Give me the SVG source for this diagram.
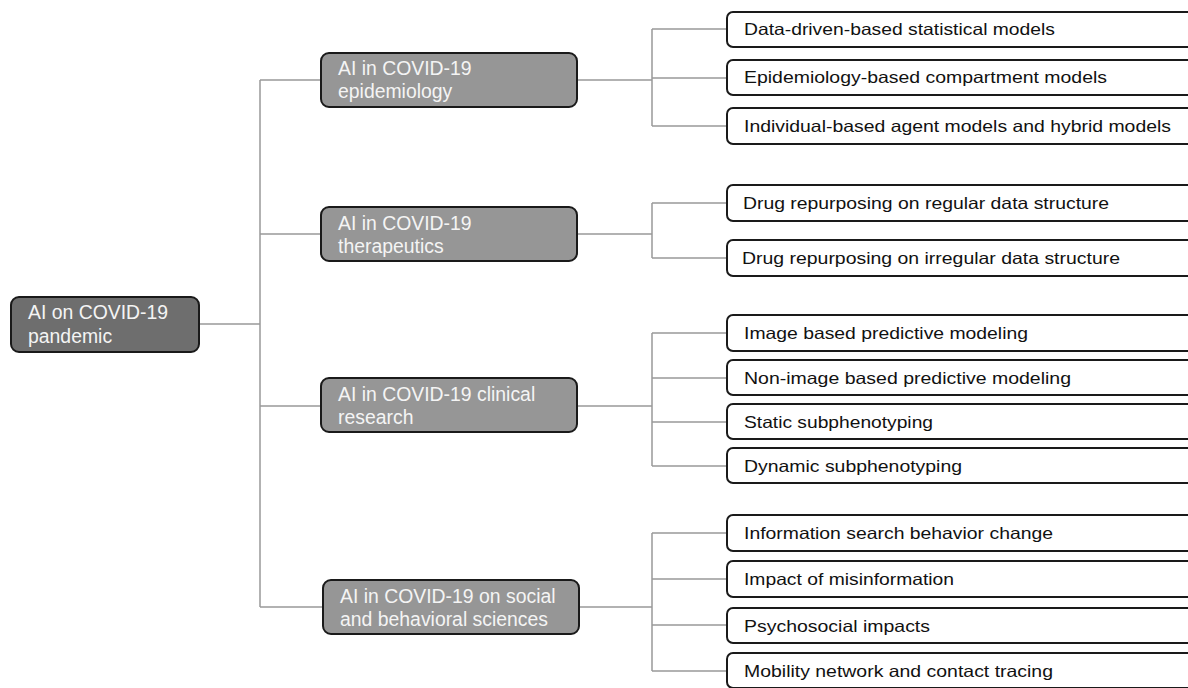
<svg xmlns="http://www.w3.org/2000/svg" width="1188" height="688" viewBox="0 0 1188 688">
<style>
.root{fill:#6e6e6e;stroke:#1a1a1a;stroke-width:2}
.mid{fill:#969696;stroke:#1a1a1a;stroke-width:2}
.leaf{fill:#ffffff;stroke:#1a1a1a;stroke-width:2}
.wt{font-family:"Liberation Sans",Arial,sans-serif;font-size:19.4px;fill:#f4f4f4}
.bt{font-family:"Liberation Sans",Arial,sans-serif;font-size:16.5px;fill:#111111}
.conn{fill:none;stroke:#999999;stroke-width:1.5}
</style>
<rect width="1188" height="688" fill="#ffffff"/>
<g id="connectors" class="conn">
<path d="M199 324H260M260 80V607M260 80H321M260 234H321M260 406H321M260 607H323"/>
<path d="M577 80H652M652 29V126M652 29H727M652 78H727M652 126H727"/>
<path d="M577 234H652M652 203V258M652 203H727M652 258H727"/>
<path d="M577 406H652M652 333V466M652 333H727M652 378H727M652 422H727M652 466H727"/>
<path d="M579 607H652M652 533V671M652 533H727M652 579H727M652 625H727M652 671H727"/>
</g>
<g id="root"><rect class="root" x="11" y="297" width="188" height="55" rx="8"/><text class="wt" x="28" y="319">AI on COVID-19</text><text class="wt" x="28" y="343">pandemic</text></g>
<g id="epi"><rect class="mid" x="321" y="53" width="256" height="54" rx="8"/><text class="wt" x="338" y="75">AI in COVID-19</text><text class="wt" x="338" y="98">epidemiology</text></g>
<g id="thera"><rect class="mid" x="321" y="207" width="256" height="54" rx="8"/><text class="wt" x="338" y="230">AI in COVID-19</text><text class="wt" x="338" y="253">therapeutics</text></g>
<g id="clin"><rect class="mid" x="321" y="378" width="256" height="54" rx="8"/><text class="wt" x="338" y="401">AI in COVID-19 clinical</text><text class="wt" x="338" y="424">research</text></g>
<g id="social"><rect class="mid" x="323" y="580" width="256" height="54" rx="8"/><text class="wt" x="340" y="603">AI in COVID-19 on social</text><text class="wt" x="340" y="626">and behavioral sciences</text></g>
<g id="leaf1"><rect class="leaf" x="727" y="12" width="480" height="35" rx="6"/><text class="bt" x="744" y="35" textLength="311" lengthAdjust="spacingAndGlyphs">Data-driven-based statistical models</text></g>
<g id="leaf2"><rect class="leaf" x="727" y="60" width="480" height="35" rx="6"/><text class="bt" x="744" y="83" textLength="363" lengthAdjust="spacingAndGlyphs">Epidemiology-based compartment models</text></g>
<g id="leaf3"><rect class="leaf" x="727" y="108" width="480" height="36" rx="6"/><text class="bt" x="744" y="132" textLength="427" lengthAdjust="spacingAndGlyphs">Individual-based agent models and hybrid models</text></g>
<g id="leaf4"><rect class="leaf" x="727" y="185" width="480" height="36" rx="6"/><text class="bt" x="743" y="209" textLength="366" lengthAdjust="spacingAndGlyphs">Drug repurposing on regular data structure</text></g>
<g id="leaf5"><rect class="leaf" x="727" y="240" width="480" height="36" rx="6"/><text class="bt" x="742" y="264" textLength="378" lengthAdjust="spacingAndGlyphs">Drug repurposing on irregular data structure</text></g>
<g id="leaf6"><rect class="leaf" x="727" y="315" width="480" height="36" rx="6"/><text class="bt" x="744" y="339" textLength="284" lengthAdjust="spacingAndGlyphs">Image based predictive modeling</text></g>
<g id="leaf7"><rect class="leaf" x="727" y="360" width="480" height="35" rx="6"/><text class="bt" x="744" y="384" textLength="327" lengthAdjust="spacingAndGlyphs">Non-image based predictive modeling</text></g>
<g id="leaf8"><rect class="leaf" x="727" y="404" width="480" height="35" rx="6"/><text class="bt" x="744" y="428" textLength="189" lengthAdjust="spacingAndGlyphs">Static subphenotyping</text></g>
<g id="leaf9"><rect class="leaf" x="727" y="448" width="480" height="35" rx="6"/><text class="bt" x="744" y="472" textLength="218" lengthAdjust="spacingAndGlyphs">Dynamic subphenotyping</text></g>
<g id="leaf10"><rect class="leaf" x="727" y="515" width="480" height="36" rx="6"/><text class="bt" x="744" y="539" textLength="309" lengthAdjust="spacingAndGlyphs">Information search behavior change</text></g>
<g id="leaf11"><rect class="leaf" x="727" y="561" width="480" height="36" rx="6"/><text class="bt" x="744" y="585" textLength="210" lengthAdjust="spacingAndGlyphs">Impact of misinformation</text></g>
<g id="leaf12"><rect class="leaf" x="727" y="608" width="480" height="35" rx="6"/><text class="bt" x="744" y="632" textLength="186" lengthAdjust="spacingAndGlyphs">Psychosocial impacts</text></g>
<g id="leaf13"><rect class="leaf" x="727" y="653" width="480" height="35" rx="6"/><text class="bt" x="744" y="677" textLength="309" lengthAdjust="spacingAndGlyphs">Mobility network and contact tracing</text></g>
</svg>
